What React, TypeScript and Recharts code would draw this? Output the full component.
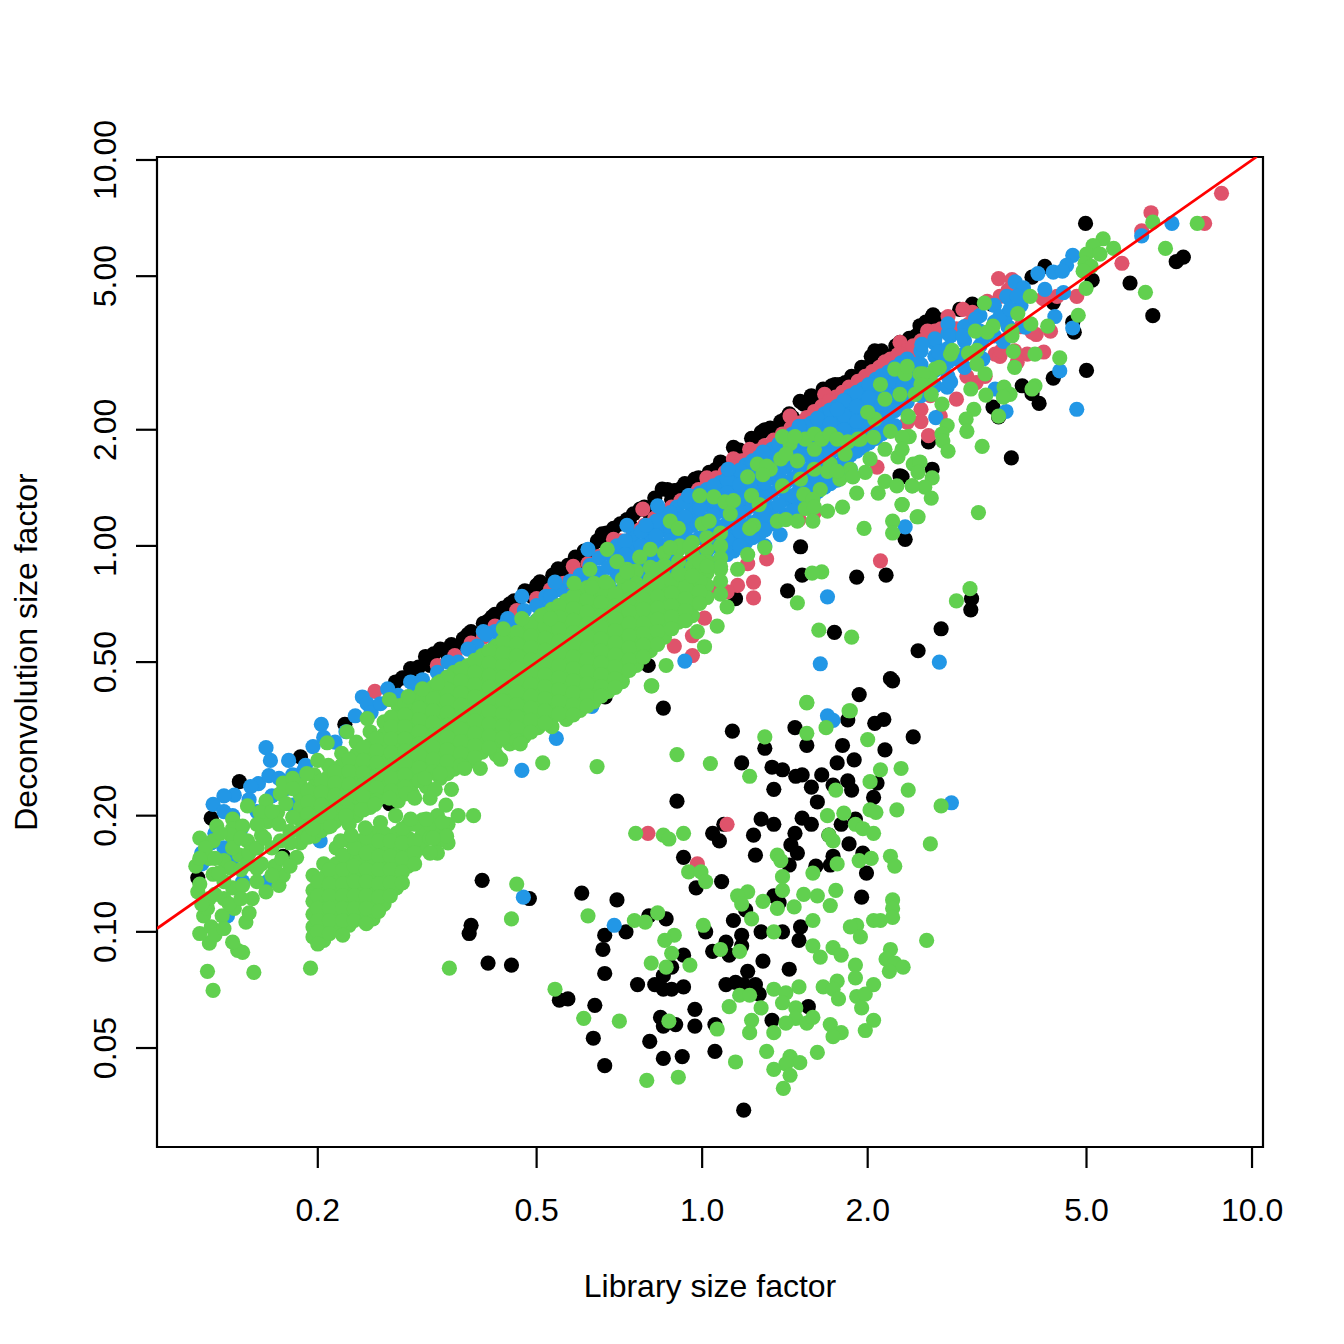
import React from "react";
import { ScatterChart, Scatter, XAxis, YAxis, ReferenceArea } from "recharts";

type Col = [number, number[]];
const xTicks = [0.2, 0.5, 1, 2, 5, 10];
const yTicks = [0.05, 0.1, 0.2, 0.5, 1, 2, 5, 10];
const xTitle = "Library size factor";
const yTitle = "Deconvolution size factor";
const xDomain = [0.102, 10.47];
const yDomain = [0.0277, 10.18];
const identityLine = [0.102, 10.2];

const blackBand: number[][] = [[.144,.245],[.186,.284],[.224,.345],[.277,.444],[.295,.481],[.314,.517],[.334,.54],[.368,.575],[.38,.6],[.409,.64],[.42,.665],[.447,.708],[.476,.765],[.507,.807],[.547,.872],[.588,.936],[.658,1.074],[.71,1.14],[.771,1.246],[.846,1.404],[.912,1.404],[.97,1.49],[1.06,1.58],[1.14,1.8],[1.3,2],[1.416,2.13],[1.507,2.37],[1.745,2.62],[1.82,2.65],[2.06,3.2],[2.29,3.37],[2.62,3.92],[2.94,4.1],
[.3,.46],[.32,.49],[.345,.52],[.36,.55],[.39,.59],[.43,.65],[.46,.7],[.49,.74],[.52,.79],[.56,.84],[.6,.9],[.63,.97],[.68,1.03],[.74,1.13],[.8,1.22],[.88,1.32],[.94,1.4],[1,1.45],[1.1,1.6],[1.2,1.75],[1.25,1.85],[1.36,1.98],[1.46,2.15],[1.6,2.35],[1.7,2.5],[1.9,2.7],[2,2.9],[2.2,3.1],[2.45,3.5],[2.75,3.8],[3.1,4.2],
[.285,.455],[.305,.485],[.325,.525],[.35,.555],[.375,.59],[.4,.63],[.415,.655],[.435,.69],[.455,.72],[.485,.76],[.5,.79],[.535,.84],[.57,.89],[.61,.97],[.645,1.03],[.67,1.08],[.69,1.11],[.73,1.17],[.75,1.21],[.785,1.26],[.82,1.33],[.865,1.4],[.89,1.39],[.93,1.45],[.985,1.5],[1.03,1.55],[1.08,1.65],[1.17,1.77],[1.23,1.9],[1.28,1.97],[1.33,2.02],[1.39,2.1],[1.44,2.2],[1.53,2.33],[1.58,2.45],[1.66,2.55],[1.72,2.6],[1.78,2.62],[1.87,2.75],[1.95,2.9],[2.03,3.1],[2.12,3.2],[2.25,3.3],[2.38,3.45],[2.55,3.8],[2.7,3.85],
[.128,.197],[.121,.138],[.27,.215],[.173,.157],[.666,.406],[.798,.49],[1.15,.73],[1.48,1.27],[4.2,5.3],[3.98,4.97],[3.1,4.23],[3.36,4.23],[2.63,3.97],[2.49,3.72],[2.47,3.5],[5.12,4.88],[4.35,4.27],[4.72,3.8]];
const blackOutliers: number[][] = [[4.98,6.85],[6,4.8],[6.6,3.95],[7.28,5.45],[7.5,5.6],[5,2.85],[4.75,3.58],[4.35,2.72],[3.82,2.6],[4.1,2.34],[3.98,2.48],[3.38,2.29],[3.46,2.16],[3.65,1.69],[2.58,1.86],[2.62,1.58],[2.31,1.51],[1.51,.995],[1.52,.84],[1.91,.83],[2.16,.84],[1.43,.765],[1.74,.597],[2.34,1.04],[2.29,1.52],[2.47,.535],[2.2,.453],[2.72,.61],[3.08,.683],[3.09,.73],
[2.22,.447],[1.93,.412],[.85,.38],[1.135,.331],[1.475,.338],[1.55,.304],[1.3,.299],[1.8,.304],[1.84,.354],[2.06,.347],[2.14,.355],[2.42,.32],[2.15,.296],[1.89,.279],[1.76,.274],[1.18,.274],[1.34,.267],[1.4,.263],[1.48,.253],[1.52,.255],[1.65,.255],[1.58,.237],[1.35,.234],[1.84,.246],[1.73,.24],[1.87,.233],[2.08,.243],[2.05,.223],[1.62,.217],[.9,.218],[1.28,.196],[1.35,.19],[1.52,.197],[1.58,.19],[1.475,.18],[1.79,.19],[1.9,.196],[1.7,.178],[1.85,.169],[1.24,.178],[1.045,.18],[1.075,.172],[1.095,.19],[1.25,.158],[1.45,.168],[1.49,.16],[1.44,.149],[1.73,.157],[1.61,.148],[1.71,.149],[1.96,.16],[1.99,.142],[.925,.156],[1.085,.135],[.975,.13],[1.95,.123],[1.35,.124],[1.2,.114],[1.38,.119],[1.14,.107],[1.51,.103],[1.5,.095],[1.4,.1],[1.28,.1],[1.015,.1],[1.18,.098],[1.105,.094],[1.045,.089],[1.18,.092],[1.12,.087],[1.29,.084],[1.21,.079],[1.44,.08],[.925,.087],[.88,.081],[.85,.077],[.82,.073],[.763,.073],[.85,.071],[.88,.071],[.925,.072],[1.105,.073],[1.15,.074],[1.19,.073],[1.25,.073],[1.27,.069],[.86,.108],[.8,.11],[.727,.1],[.665,.098],[.66,.09],[.665,.078],[.398,.136],[.604,.126],[.7,.121],[.485,.122],[.38,.104],[.377,.099],[.408,.083],[.45,.082],[.55,.0665],[.57,.067],[.638,.0645],[.97,.063],[.84,.06],[.85,.057],[.895,.0575],[.97,.057],[1.055,.0575],[1.34,.059],[1.56,.064],[.634,.053],[.803,.052],[1.055,.049],[.85,.047],[.92,.0475],[.665,.045],[1.19,.0345]];

const redPoints: number[][] = [[8.8,8.2],[6.55,7.3],[8.2,6.85],[6.3,6.55],[5.8,5.4],[3.46,4.93],[3.66,4.9],[4.8,4.43],[2.98,4.1],[3.1,4.03],[2.8,3.93],[3.48,4.43],[4.17,4.37],[4.42,4.43],[4.05,3.53],[2.58,1.93],[2.5,2.26],[2.71,2.17],[2.36,2.09],[3.41,3.14],[3.48,3.1],[3.9,3.14],[4.18,3.18],[3.27,2.75],[3.03,2.75],[3.74,2.99],[2.29,3.37],[2.42,3.18],[2.57,3.6],[3.98,3.58],
[.78,1.246],[.69,1.04],[.583,.885],[.46,.68],[1.445,2.17],[1.22,1.78],[1.14,1.68],[1.02,1.5],[.9,1.26],[.77,1.1],[.52,.74],[1.31,.926],[1.21,.9],[1.24,.806],[1.24,.733],[1.16,.79],[1.11,.76],[1.05,.77],[1.01,.65],[.96,.585],[.89,.55],[.96,.52],[2.11,.915],[2.08,1.6],[1.6,1.22],[1.5,1.17],[.254,.42],
[.27,.4],[.33,.49],[.38,.56],[.42,.62],[.5,.73],[.56,.8],[.62,.9],[.68,.98],[.75,1.08],[.82,1.18],[.88,1.26],[.95,1.35],[1.02,1.44],[1.1,1.55],[1.18,1.66],[1.26,1.76],[1.35,1.88],[1.45,2.02],[1.55,2.15],[1.65,2.3],[1.75,2.43],[1.85,2.58],[1.98,2.75],[2.1,2.9],[2.2,3.05],[2.35,3.2],[2.5,3.4],[2.65,3.6],[1.67,2.47],[1.85,2.47],[2.29,3.14],
[.3,.44],[.355,.52],[.4,.58],[.46,.66],[.53,.77],[.59,.85],[.65,.94],[.71,1.03],[.785,1.13],[.85,1.22],[.915,1.31],[.985,1.4],[1.06,1.5],[1.14,1.6],[1.22,1.71],[1.3,1.82],[1.4,1.95],[1.5,2.08],[1.6,2.23],[1.7,2.37],[1.8,2.5],[1.92,2.67],[2.04,2.83],[2.15,3],[2.27,3.13],[2.42,3.3],[2.58,3.5],[2.72,3.65],[2.9,3.65],[3.05,3.75],[3.3,4.3],[3.6,4.6],[2.4,2.6],[2.6,2.45],[2.9,2.4],[3.15,2.65],[3.5,3.2],[3.7,3.2],[2.2,2.25],[2.3,2.3],[2.5,2.1],[3.8,3.7],[4.3,3.6]];
const redOutliersLow: number[][] = [[1.11,.19],[.797,.18],[.98,.15]];

const blueEdge: number[][] = [[.203,.345],[.161,.3],[.164,.278],[.177,.278],[.196,.302],[.205,.319],[.241,.406],[.234,.363],[.268,.426],[.295,.444],[.246,.39],[.156,.242],[.151,.238],[.163,.254],[.141,.226],[.135,.225],[.129,.214],[.135,.205],[.123,.16],[.123,.15],[.141,.172],[.18,.213],[.187,.208],[.202,.172],[.188,.26],[.18,.255],[.196,.198],[.137,.11],[.162,.135],[.146,.135],[.47,.74],[.443,.648],[.4,.6],[.54,.806],[.53,.74],[.62,.98],[.73,1.13],[.83,1.27],[.79,1.13],[.945,1.35],[1.115,1.58],[1.29,1.75],[1.5,2.04],[1.76,2.26],
[4.08,5.08],[4.72,5.66],[4.6,5.33],[4.35,5.12],[4.52,5.15],[3.71,4.83],[3.84,4.66],[4.2,4.62],[4.54,4.53],[3.58,4.43],[3.74,4.43],[3.48,3.93],[3.63,4.1],[3.14,3.87],[2.8,3.76],[2.65,3.44],[2.51,3.33],[2.83,3.5],[2.98,3.5],[3.24,3.44],[3.53,3.39],[3.87,3.69],[4.38,3.93],[6.3,6.36],[7.15,6.85],[4.72,3.67],[4.47,2.84],[4.8,2.26],[3.57,2.23],[3.41,2.55],[2.66,2.15],[2.79,2.58],[2.6,2.66],[2.42,2.71],[2.32,2.6],[2.46,2.96],[2.69,3.18],[2.91,3.05],[3.24,3.05],[2.83,2.66],[1.386,1.07],[1.3,1],
[.25,.37],[.26,.39],[.28,.41],[.31,.45],[.345,.5],[.375,.54],[.405,.59],[.435,.62],[.475,.68],[.215,.31],[.225,.33],[.17,.25],[.19,.27],[.15,.22],[.14,.2],[.13,.18],[.145,.185],[.155,.205],[.165,.225],[.175,.235],[.135,.165],[.128,.17],[.14,.155],
[1.69,.363],[1.73,.353],[.543,.317],[.63,.384],[.47,.262],[2.84,.216],[.473,.123],[.692,.104],[.665,.43],[1.64,.495],[1.69,.738],[2.7,.5],[.93,.503],[2.34,1.12]];
const blueColumns: Col[] = [[.3,[.42,.39]],[.33,[.47,.43]],[.36,[.5,.47]],[.39,[.55,.5]],[.42,[.6,.55]],[.45,[.63,.58]],[.5,[.7,.64]],[.55,[.77,.7,.64]],[.6,[.84,.77,.7]],[.65,[.93,.85,.78,.7]],[.7,[1,.92,.84,.76]],[.75,[1.06,.98,.9,.82,.74]],[.8,[1.12,1.03,.95,.87,.78]],[.85,[1.2,1.1,1,.92,.83]],[.9,[1.26,1.16,1.06,.97,.88,.8]],[.96,[1.34,1.23,1.13,1.03,.93,.85]],[1.02,[1.4,1.28,1.17,1.07,.97,.88]],[1.08,[1.46,1.34,1.23,1.12,1.02,.93]],[1.14,[1.52,1.4,1.28,1.17,1.06,.97]],[1.2,[1.62,1.48,1.36,1.24,1.12,1.02]],[1.27,[1.7,1.56,1.42,1.3,1.18,1.07]],[1.34,[1.78,1.64,1.5,1.37,1.25,1.14]],[1.42,[1.9,1.74,1.6,1.46,1.32,1.2]],[1.5,[2,1.84,1.68,1.53,1.39,1.27]],[1.58,[2.08,1.92,1.76,1.6,1.46,1.34]],[1.67,[2.2,2.02,1.85,1.7,1.55,1.42]],[1.76,[2.3,2.12,1.94,1.78,1.62,1.48]],[1.86,[2.45,2.25,2.05,1.88,1.72,1.58]],[1.96,[2.55,2.35,2.15,1.98,1.8]],[2.07,[2.7,2.48,2.28,2.08,1.9]],[2.18,[2.82,2.6,2.38,2.18,2]],[2.3,[2.98,2.74,2.5,2.3]],
[.52,[.74,.68]],[.575,[.81,.74,.67]],[.625,[.89,.81,.74]],[.675,[.96,.88,.8,.72]],[.725,[1.03,.95,.87,.79]],[.775,[1.09,1,.92,.84,.76]],[.825,[1.16,1.06,.97,.89,.8]],[.875,[1.22,1.12,1.03,.94,.85]],[.93,[1.3,1.19,1.09,1,.9]],[.99,[1.37,1.25,1.15,1.05,.95]],[1.05,[1.43,1.31,1.2,1.09,1,.9]],[1.11,[1.49,1.37,1.25,1.14,1.04,.95]],[1.17,[1.57,1.44,1.32,1.2,1.09,1]],[1.235,[1.66,1.52,1.39,1.27,1.15,1.05]],[1.3,[1.74,1.6,1.46,1.33,1.21,1.1]],[1.38,[1.84,1.69,1.55,1.41,1.28,1.17]],[1.46,[1.95,1.79,1.64,1.49,1.35,1.23]],[1.54,[2.04,1.88,1.72,1.56,1.43,1.3]],[1.62,[2.14,1.97,1.8,1.65,1.5,1.38]],[1.71,[2.25,2.07,1.9,1.74,1.58,1.45]],[1.81,[2.38,2.18,2,1.83,1.67,1.53]],[1.91,[2.5,2.3,2.1,1.93,1.76]],[2.01,[2.62,2.42,2.22,2.03,1.85]],[2.12,[2.76,2.54,2.33,2.13,1.95]],[2.24,[2.9,2.67,2.44,2.24,2.05]],[2.36,[3.05,2.8,2.56,2.36]],[2.5,[3.2,2.95,2.7,2.45]],[2.65,[3.35,3.1,2.85,2.6]],[2.8,[3.55,3.25,3,2.75]],[3,[3.7,3.4,3.15,2.9]],[3.2,[3.95,3.6,3.3]],[3.4,[4.2,3.8,3.5]],[3.6,[4.4,4,3.7]],[3.8,[4.55,4.2]]];

const greenColumns: Col[] = [[.186,[.24,.225,.21,.195,.182,.17]],[.197,[.255,.238,.222,.205,.19,.177]],[.209,[.27,.252,.235,.218,.2,.187]],[.221,[.29,.27,.25,.232,.215,.2]],[.235,[.31,.288,.268,.25,.232,.215,.2]],[.249,[.33,.305,.284,.264,.245,.228,.21]],[.264,[.35,.325,.302,.28,.26,.24,.224]],[.28,[.385,.358,.333,.31,.288,.268,.25,.232,.218]],[.297,[.4,.372,.346,.322,.3,.28,.26,.242,.228]],[.315,[.42,.39,.363,.338,.315,.293,.272,.253,.238]],[.334,[.445,.414,.385,.358,.333,.31,.288,.268,.25]],[.354,[.47,.437,.407,.38,.353,.328,.305,.284,.264]],[.375,[.49,.457,.425,.395,.368,.342,.318,.296,.275]],[.398,[.52,.483,.45,.418,.39,.362,.337,.313,.292]],[.422,[.55,.51,.475,.443,.412,.383,.356,.332,.308,.288]],[.447,[.585,.545,.507,.472,.44,.41,.38,.353,.33,.307]],[.474,[.61,.57,.53,.492,.458,.427,.397,.37,.344,.32]],[.503,[.645,.6,.56,.52,.484,.45,.42,.39,.363,.338]],[.533,[.685,.637,.593,.552,.514,.478,.445,.414,.385,.358,.34]],[.566,[.72,.67,.625,.58,.54,.503,.468,.435,.405,.377,.355]],[.6,[.76,.707,.658,.612,.57,.53,.494,.46,.428,.398,.375]],[.636,[.8,.745,.69,.645,.6,.558,.52,.484,.45,.42,.395]],[.675,[.79,.735,.684,.636,.592,.55,.512,.476,.445,.42]],[.716,[.82,.765,.71,.66,.615,.572,.532,.495,.462,.445]],[.759,[.86,.8,.745,.693,.645,.6,.558,.52,.49]],[.805,[.88,.82,.76,.71,.66,.614,.572,.535]],[.854,[.96,.89,.83,.77,.715,.665,.62,.58]],[.906,[.98,.91,.85,.79,.735,.683,.635]],[.96,[1.02,.95,.885,.82,.765,.71,.66]],[1.02,[1.05,.98,.91,.85,.79,.735]],[1.08,[1.08,1,.93,.87,.81,.75]]];
const greenBetween: Col[] = [[.192,[.232,.217,.202,.188,.176]],[.203,[.246,.23,.213,.197,.183]],[.215,[.26,.243,.226,.208,.193]],[.228,[.28,.26,.241,.223,.207,.19]],[.242,[.3,.278,.258,.241,.224,.207]],[.256,[.317,.295,.274,.254,.236,.219]],[.272,[.36,.34,.316,.291,.27,.25,.232]],[.288,[.39,.365,.34,.316,.294,.274,.255,.237]],[.306,[.41,.38,.355,.33,.307,.286,.266,.247]],[.324,[.43,.402,.374,.348,.324,.301,.28,.26]],[.344,[.457,.425,.396,.369,.343,.319,.296,.276,.257]],[.364,[.48,.447,.416,.387,.36,.335,.311,.29,.27]],[.386,[.505,.47,.437,.406,.379,.352,.327,.304,.283]],[.41,[.535,.497,.462,.43,.401,.372,.346,.322,.3]],[.434,[.567,.527,.49,.457,.426,.396,.368,.342,.318]],[.46,[.597,.557,.518,.482,.449,.418,.388,.361,.337,.313]],[.488,[.627,.585,.545,.506,.471,.438,.408,.38,.353,.329]],[.518,[.665,.618,.576,.536,.499,.464,.432,.402,.374,.348]],[.549,[.7,.653,.609,.566,.527,.49,.456,.424,.395,.367]],[.583,[.74,.688,.641,.596,.555,.516,.481,.447,.416,.387,.365]],[.618,[.78,.726,.674,.628,.585,.544,.507,.472,.439,.409,.385]],[.655,[.765,.712,.66,.615,.574,.535,.498,.464,.432,.408]],[.695,[.75,.698,.648,.603,.561,.522,.485,.453,.43]],[.737,[.78,.727,.676,.63,.586,.545,.507,.476]],[.782,[.78,.727,.685,.63,.593,.553,.515]],[.83,[.8,.74,.69,.645,.6,.556]],[.88,[.81,.755,.7,.655,.61]],[.933,[.84,.785,.73,.68,.64]],[.99,[.87,.81,.76,.71]]];
const greenBlob: Col[] = [[.196,[.14,.128,.12,.111,.103,.097]],[.205,[.15,.138,.128,.12,.111,.103,.095]],[.216,[.165,.15,.138,.128,.12,.111,.103]],[.228,[.172,.155,.14,.128,.12,.111,.104]],[.239,[.172,.155,.14,.13,.12,.11]],[.252,[.18,.165,.15,.14,.128,.12,.108]],[.264,[.18,.165,.15,.138,.128,.118]],[.278,[.18,.165,.15,.14,.13]],[.292,[.19,.175,.16,.148]],[.31,[.195,.18,.165]],[.33,[.2,.185,.172,.16]],
[.2,[.135,.124,.115,.107,.1,.093]],[.21,[.145,.133,.124,.115,.107,.099]],[.222,[.158,.145,.133,.124,.115,.107,.098]],[.233,[.165,.148,.135,.124,.115,.107]],[.245,[.176,.16,.145,.135,.124,.115,.105]],[.258,[.172,.157,.145,.133,.123,.113]],[.271,[.172,.157,.145,.134,.124]],[.285,[.185,.17,.155,.143,.134]],[.3,[.19,.172,.16,.15]],[.32,[.19,.175,.16]],[.345,[.19,.17]]];
const greenLowEnd: number[][] = [[.129,.0705],[.126,.079],[.153,.0785],[.146,.0885],[.143,.0895],[.14,.094],[.127,.0935],[.122,.099],[.148,.106],[.194,.0805],[.122,.175],[.12,.148],[.121,.127],[.124,.11],[.128,.103],[.134,.11],[.141,.115],[.129,.172],[.131,.188],[.14,.196],[.14,.185],[.149,.212],[.161,.218],[.171,.228],[.173,.243],[.126,.115],[.152,.122],[.161,.127],[.17,.132],[.173,.14],[.167,.148],[.155,.146],[.144,.158],[.135,.153],[.127,.155],[.149,.172],[.162,.193],[.157,.204],[.169,.204],[.18,.198],[.178,.182],[.171,.172],[.158,.178],[.146,.188],[.139,.178],[.139,.146],[.129,.141],[.122,.133],[.14,.13],[.135,.122],[.146,.132],[.149,.15],[.127,.122],[.191,.257],[.18,.25],[.2,.278],[.208,.309],[.226,.33],[.246,.357],[.27,.4],[.292,.407],[.31,.426],[.33,.44],[.183,.156],[.211,.188],[.196,.185],[.22,.172],[.295,.196],[.315,.196],[.337,.192],[.36,.2],[.384,.2],[.343,.177],[.324,.175],
[.125,.165],[.13,.155],[.133,.18],[.135,.135],[.14,.165],[.145,.175],[.145,.145],[.15,.16],[.155,.19],[.155,.165],[.158,.15],[.16,.175],[.165,.205],[.165,.165],[.165,.14],[.17,.19],[.172,.155],[.175,.215],[.178,.17],[.178,.148],[.18,.235],[.13,.125],[.138,.118],[.145,.122],[.155,.135],[.15,.112],[.132,.142],[.122,.155],[.123,.118],[.13,.098],[.135,.102],
[.225,.2],[.24,.207],[.254,.214],[.27,.222],[.29,.228],[.225,.222],[.21,.204],[.3,.222],[.327,.234],[.35,.234],[.313,.25],[.334,.257],[.37,.265],[.395,.265],[.43,.28],[.467,.307],[.277,.2],[.26,.192],[.244,.186],[.23,.178],[.342,.213],[.32,.222]];
const greenSparse: number[][] = [[.672,.98],[.625,.87],[.7,.91],[.805,.98],[.73,.87],[.77,.935],[.91,1],[.95,1],[.875,.99],[.585,.8],[.63,.78],[.667,.806],[.73,.856],[.83,.87],[.47,.648],[.51,.66],[.53,.648],[.435,.61],
[1.33,1.58],[1.39,1.68],[1.445,1.84],[1.54,1.89],[1.6,1.78],[1.51,1.49],[1.6,1.58],[1.71,1.63],[1.82,1.73],[1.94,1.89],[2.06,2.13],[2.15,2.4],[2.29,2.47],[2.11,2.62],[2.24,2.87],[2.34,2.79],[2.49,2.79],[2.65,2.87],[2.83,3.14],[2.44,2.47],[2.6,2.7],[2.02,1.68],[1.86,1.58],[1.78,1.49],[1.64,1.4],[1.54,1.25],
[.99,1.35],[1.05,1.34],[1.1,1.3],[1.14,1.31],[.875,1.16],[.905,1.11],[1,1.14],[1.03,1.16],[1.125,1.21],[1.26,1.63],[1.31,1.61],[1.21,1.51],[1.29,1.53],[1.23,1.35],[1.27,1.28],[1.4,1.92],[1.475,1.92],[1.6,1.95],[1.65,1.89],[1.71,1.95],[1.76,1.89],[1.42,1.73],[1.49,1.66],[1.4,1.43],[1.69,1.56],[1.76,1.56],[1.53,1.36],[1.59,1.32],[1.6,1.26],[1.24,1.13],[1.22,1.11],[1.37,1.16],[1.42,1.17],[1.49,1.16],[1.59,1.16],[1.69,1.23],[1.8,1.26],[1.91,1.37],[1.98,1.55],[1.88,1.51],[2.09,1.37],[2.15,1.47],[2.26,1.43],[2.41,1.43],[2.31,1.28],[2.22,1.16],[2.22,1.08],[1.97,1.11],[2.46,1.19],[2.46,1.61],[1.92,1.89],[1.84,1.86],[2.05,1.91],[2.2,1.98],[2,2.22],[2.15,1.78],[2.27,1.7],[2.37,1.92],[2.37,2.16],[1.63,.605],[1.87,.58],[1.65,.856],[1.585,.85],[1.49,.712],[1.55,.393],[1.86,.374],[.81,.434],[.86,.49],[1.01,.548],[1.065,.62],[.98,.6],[1.11,.695],[1.3,.99],[1.21,.95],[1.16,.87],[1.08,.885],[.99,.91],[1.02,.885],[.91,.846],[.96,.836],
[3.18,1.22],[2.9,.72],[3.07,.775],[6.4,4.54],[6.96,5.9],[6.6,6.9],[7.95,6.85],[5.36,6.25],[5.6,5.9],[5.14,6],[5,5.7],[5.29,5.7],[4.97,5.4],[5.1,5.3],[4.93,5.15],[4.99,4.65],[3.95,4.43],[3.26,4.26],[3.75,4],[3.96,3.76],[4.25,3.71],[4.83,3.96],[3.38,3.71],[3.3,3.58],[3.14,3.6],[3.66,3.6],[3.66,3.5],[2.85,3.21],[3.68,3.19],[3.05,3.16],[3.16,3.21],[4.03,3.14],[4.47,3.07],[3.7,2.9],[2.7,2.9],[2.36,2.92],[2.52,2.79],[2.5,2.62],[3.16,2.96],[3.27,2.79],[2.61,2.47],[2.73,2.33],[3.08,2.55],[3.28,2.46],[3.54,2.58],[3.63,2.47],[3.53,2.43],[4.03,2.6],[3.98,2.55],[3.12,2.26],[3.02,2.13],[3.03,1.98],[3.46,2.17],[2.79,2.05],[2.73,1.95],[2.74,1.87],[2.8,1.76],[3.23,1.81],[2.37,2.17],[2.38,1.92],[2.31,1.91],[2.31,1.78],[2.42,1.63],[2.49,1.65],[2.47,1.55],[2.62,1.5],[2.54,1.42],[2.41,1.43],[2.61,1.33],[2.31,1.28],[2.47,1.19]];
const greenOutliers: number[][] = [[.808,.434],[1.55,.392],[1.85,.374],[1.68,.338],[1.55,.327],[1.3,.32],[2,.315],[.9,.288],[1.035,.273],[.644,.268],[.513,.274],[1.22,.253],[2.11,.263],[2.3,.265],[2.02,.245],[1.75,.233],[2.37,.233],[1.69,.2],[1.81,.203],[2.02,.207],[2.07,.204],[2.26,.207],[2.72,.212],[1.9,.19],[1.96,.185],[2.05,.18],[1.7,.178],[1.73,.172],[2.6,.169],[.757,.18],[.85,.178],[.87,.174],[.925,.18],[1.37,.158],[1.39,.153],[1.4,.139],[1.59,.142],[1.76,.15],[1.93,.153],[2.03,.155],[2.2,.157],[2.24,.148],[.945,.143],[.995,.143],[1.015,.135],[.46,.133],[1.21,.127],[1.16,.124],[1.18,.118],[1.29,.12],[1.4,.128],[1.37,.115],[1.47,.116],[1.53,.125],[1.62,.124],[1.75,.128],[1.71,.117],[2.22,.121],[2.22,.115],[2.22,.109],[2.05,.107],[2.11,.107],[1.91,.104],[1.86,.103],[1.94,.097],[1.59,.107],[1.23,.108],[1.005,.104],[1.35,.1],[.62,.11],[.45,.108],[.753,.107],[.788,.106],[.83,.112],[.89,.098],[.855,.095],[.88,.088],[.808,.083],[.86,.081],[.95,.082],[1.08,.09],[1.17,.089],[1.59,.092],[1.64,.086],[1.73,.091],[1.79,.087],[2.56,.095],[2.2,.09],[2.16,.085],[2.24,.083],[2.32,.081],[2.19,.079],[1.9,.082],[1.9,.076],[2.05,.073],[1.76,.0745],[1.66,.072],[1.73,.071],[1.77,.067],[1.5,.072],[1.91,.068],[1.98,.069],[1.95,.0635],[2.05,.059],[1.98,.0555],[1.35,.071],[1.42,.0695],[1.17,.0685],[1.22,.0685],[1.12,.064],[1.28,.0635],[1.4,.0655],[1.48,.0635],[1.48,.0597],[1.42,.058],[1.55,.058],[1.59,.06],[1.23,.059],[1.065,.056],[1.22,.0548],[1.35,.0548],[1.71,.0575],[1.79,.0548],[1.73,.0535],[.87,.0587],[.707,.0587],[.609,.0597],[.54,.071],[.347,.0805],[1.31,.049],[1.62,.0487],[1.15,.046],[1.445,.0475],[1.505,.0458],[1.42,.0455],[1.35,.044],[1.445,.0425],[1.405,.0393],[.905,.042],[.793,.0412]];

const pairs = (list: number[][]) => list.map(([x, y]) => ({ x, y }));
const columns = (list: Col[]) => list.flatMap(([x, ys]) => ys.map((y) => ({ x, y })));

const black = [...pairs(blackBand), ...pairs(blackOutliers)];
const red = [...pairs(redPoints), ...pairs(redOutliersLow)];
const blue = [...columns(blueColumns), ...pairs(blueEdge)];
const green = [...columns(greenColumns), ...columns(greenBetween), ...columns(greenBlob), ...pairs(greenLowEnd), ...pairs(greenSparse), ...pairs(greenOutliers)];
const identity = identityLine.map((v) => ({ x: v, y: v }));

const FONT = "'Liberation Sans', Arial, sans-serif";
const Dot = (p: any) => <circle cx={p.cx} cy={p.cy} r={7.6} fill={p.fill} />;
const NoDot = () => null;

const XTick = (p: any) => (
  <text x={p.x} y={p.y + 53} textAnchor="middle" fontSize={32} fontFamily={FONT} fill="#000">
    {p.payload.value.toFixed(1)}
  </text>
);
const YTick = (p: any) => (
  <text x={p.x - 20} y={p.y} transform={`rotate(-90 ${p.x - 20} ${p.y})`} textAnchor="middle" fontSize={32} fontFamily={FONT} fill="#000">
    {p.payload.value.toFixed(2)}
  </text>
);

export default function App() {
  return (
    <div style={{ position: "absolute", left: 0, top: 0, width: 1344, height: 1344, background: "#fff" }}>
      <ScatterChart width={1344} height={1344} margin={{ top: 157, right: 81, left: 57, bottom: 97 }}>
        <XAxis
          type="number"
          dataKey="x"
          scale="log"
          domain={xDomain}
          allowDataOverflow
          ticks={xTicks}
          interval={0}
          height={100}
          axisLine={false}
          tick={XTick}
          tickSize={21}
          tickMargin={0}
          tickLine={{ stroke: "#000", strokeWidth: 2.2 }}
          label={{ value: xTitle, position: "insideBottom", offset: -50, style: { fontSize: 32, fontFamily: FONT, fill: "#000", textAnchor: "middle" } }}
        />
        <YAxis
          type="number"
          dataKey="y"
          scale="log"
          domain={yDomain}
          allowDataOverflow
          ticks={yTicks}
          interval={0}
          width={100}
          axisLine={false}
          tick={YTick}
          tickSize={21}
          tickMargin={0}
          tickLine={{ stroke: "#000", strokeWidth: 2.2 }}
          label={{ value: yTitle, angle: -90, position: "insideLeft", offset: -31, style: { fontSize: 32, fontFamily: FONT, fill: "#000", textAnchor: "middle" } }}
        />
        <ReferenceArea x1={xDomain[0]} x2={xDomain[1]} y1={yDomain[0]} y2={yDomain[1]} fill="none" fillOpacity={0} stroke="#000" strokeWidth={2.2} ifOverflow="visible" />
        <Scatter data={black} fill="#000000" shape={Dot} isAnimationActive={false} />
        <Scatter data={red} fill="#DF536B" shape={Dot} isAnimationActive={false} />
        <Scatter data={blue} fill="#2297E6" shape={Dot} isAnimationActive={false} />
        <Scatter data={green} fill="#61D04F" shape={Dot} isAnimationActive={false} />
        <Scatter data={identity} fill="#FF0000" line={{ stroke: "#FF0000", strokeWidth: 2.7 }} shape={NoDot} isAnimationActive={false} />
      </ScatterChart>
    </div>
  );
}
